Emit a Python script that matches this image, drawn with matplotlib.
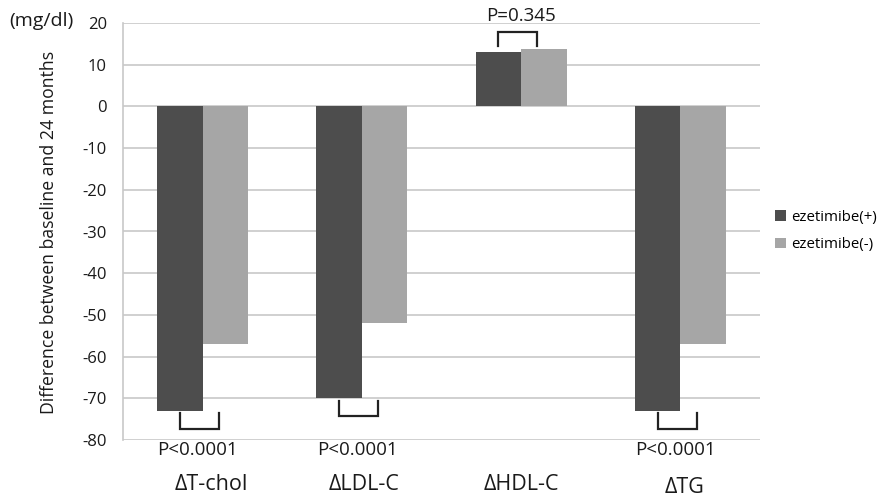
import matplotlib
matplotlib.use("Agg")
import matplotlib.pyplot as plt
import numpy as np
from matplotlib.patches import Patch
from matplotlib.transforms import offset_copy

plt.rcParams['font.family'] = ['Open Sans', 'DejaVu Sans']

categories = ["ΔT-chol", "ΔLDL-C", "ΔHDL-C", "ΔTG"]
ezetimibe_pos = [-73, -70, 13, -73]
ezetimibe_neg = [-57, -52, 13.7, -57]
p_labels = ["P<0.0001", "P<0.0001", "P=0.345", "P<0.0001"]
series_names = ["ezetimibe(+)", "ezetimibe(-)"]
yticks = list(range(-80, 21, 10))

dark = "#4d4d4d"
light = "#a6a6a6"
grid = "#c8c8c8"
txt = "#1a1a1a"

fig = plt.figure(figsize=(8.82, 4.98), dpi=100)
ax = fig.add_axes([123/882, 1-440/498, (760-123)/882, (440-23)/498])

x = np.arange(len(categories))
w = 0.285
ax.bar(x - w/2, ezetimibe_pos, width=w, color=dark, zorder=3)
ax.bar(x + w/2, ezetimibe_neg, width=w, color=light, zorder=3)

ax.set_xlim(-0.5, len(categories) - 0.5)
ax.set_ylim(-80, 20)
ax.set_yticks(yticks)
ax.set_yticklabels([str(t) for t in yticks], fontsize=12, color=txt)
ax.yaxis.grid(True, color=grid, linewidth=1.2, zorder=0)
ax.set_axisbelow(True)
ax.tick_params(axis='y', length=0, pad=11.5)
ax.set_xticks([])
for s in ["top", "right", "bottom"]:
    ax.spines[s].set_visible(False)
ax.spines["left"].set_color(grid)
ax.spines["left"].set_linewidth(1.2)

# category labels (hand-placed text boxes in the original)
label_dx = [9, 2, 0, 4]
label_dy = [0, 0, 0, -3]
btrans = ax.get_xaxis_transform()
for i, lab in enumerate(categories):
    tr = offset_copy(btrans, fig=fig, x=label_dx[i], y=label_dy[i], units='dots')
    ax.text(i, -(484 - 440) / 417, lab, transform=tr, ha='center', va='center',
            fontsize=15.5, color=txt, clip_on=False)

# significance brackets
for i, (a, b, p) in enumerate(zip(ezetimibe_pos, ezetimibe_neg, p_labels)):
    x0 = i - w/2
    x1 = i + w/2 - 0.04
    if a < 0:
        base = min(a, b)
        y_in, y_out = base - 0.6, base - 4.3
        ax.plot([x0, x0, x1, x1], [y_in, y_out, y_out, y_in], color="#222222",
                lw=1.6, zorder=4, clip_on=False, solid_joinstyle='miter')
        ax.text(i - 0.03, -82.5, p, ha='center', va='center', fontsize=13.5,
                color=txt, clip_on=False)
    else:
        top = max(a, b)
        y_in, y_out = top + 0.9, top + 4.1
        ax.plot([x0, x0, x1, x1], [y_in, y_out, y_out, y_in], color="#222222",
                lw=1.6, zorder=4, clip_on=False, solid_joinstyle='miter')
        ax.text(i, 21.7, p, ha='center', va='center', fontsize=13.5,
                color=txt, clip_on=False)

fig.text(49/882, 1-232/498, "Difference between baseline and 24 months",
         rotation=90, ha='center', va='center', fontsize=12.7, color=txt)
fig.text(9/882, 1-21/498, "(mg/dl)", ha='left', va='center', fontsize=14,
         color=txt)

handles = [Patch(facecolor=dark, edgecolor='none'), Patch(facecolor=light, edgecolor='none')]
fig.legend(handles, series_names, loc='center left',
           bbox_to_anchor=(775/882, 1-231/498), frameon=False, fontsize=10.8,
           handlelength=0.7, handleheight=0.7, handletextpad=0.35,
           labelspacing=0.85, borderaxespad=0, borderpad=0)

fig.savefig("out.png", dpi=100)
